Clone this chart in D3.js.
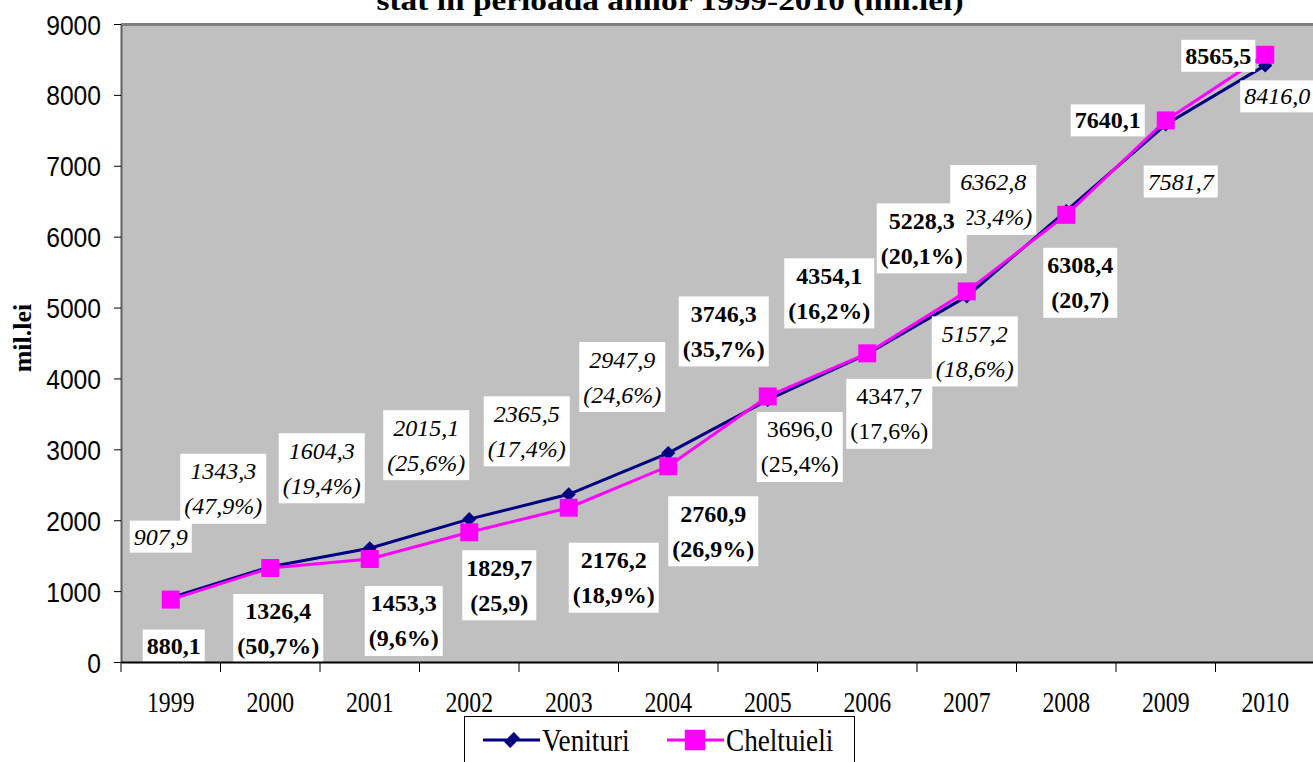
<!DOCTYPE html>
<html>
<head>
<meta charset="utf-8">
<script src="https://cdn.jsdelivr.net/npm/d3@7"></script>
<style>
  body { margin: 0; background: #fff; }
  svg { display: block; }
</style>
</head>
<body>
<div id="chart"></div>
<script>
// data
const years = ['1999', '2000', '2001', '2002', '2003', '2004', '2005', '2006', '2007', '2008', '2009', '2010'];
const venituri = [907.9, 1343.3, 1604.3, 2015.1, 2365.5, 2947.9, 3696.0, 4347.7, 5157.2, 6362.8, 7581.7, 8416.0];
const cheltuieli = [880.1, 1326.4, 1453.3, 1829.7, 2176.2, 2760.9, 3746.3, 4354.1, 5228.3, 6308.4, 7640.1, 8565.5];
const venituriGrowth = [null, '(47,9%)', '(19,4%)', '(25,6%)', '(17,4%)', '(24,6%)', '(25,4%)', '(17,6%)', '(18,6%)', '(23,4%)', null, null];
const cheltuieliGrowth = [null, '(50,7%)', '(9,6%)', '(25,9)', '(18,9%)', '(26,9%)', '(35,7%)', '(16,2%)', '(20,1%)', '(20,7)', null, null];
const yTicks = [0, 1000, 2000, 3000, 4000, 5000, 6000, 7000, 8000, 9000];
const seriesNames = ['Venituri', 'Cheltuieli'];

// label placement (offset of label centre from its point), kept apart from the data
const venOffsets = [[-10, -61], [-47, -78], [-48, -80], [-43, -74], [-42, -63], [-46, -76],
                    [32, 47], [22, 60], [8, 55], [-73, -11], [15, 57], [12, 31]];
const venItalic = [true, true, true, true, true, true, false, false, true, true, true, true];
const chOffsets = [[3, 46], [8, 61], [34, 62], [30, 53], [45, 70], [45, 65],
                   [-44, -65], [-38, -60], [-45, -53], [14, 68], [-58, 0], [-47, 1]];

const W = 1313, H = 762;
const plotLeft = 121, plotRight = 1315, plotTop = 24, plotBottom = 662;
const serif = '"Liberation Serif", "Times New Roman", serif';
const sans = '"Liberation Sans", Arial, sans-serif';

const svg = d3.select('#chart').append('svg')
    .attr('width', W)
    .attr('height', H);

const x = d3.scaleBand().domain(years).range([plotLeft, plotRight]);
const y = d3.scaleLinear().domain([0, 9000]).range([plotBottom, plotTop]);
const cx = i => x(years[i]) + x.bandwidth() / 2;
const fmt = v => d3.format('.1f')(v).replace('.', ',');

// title (only its lower part is in the frame)
svg.append('text')
    .attr('x', 670).attr('y', 10)
    .attr('text-anchor', 'middle')
    .attr('font-family', serif).attr('font-weight', 'bold').attr('font-size', 28)
    .attr('textLength', 587).attr('lengthAdjust', 'spacingAndGlyphs')
    .text('stat în perioada anilor 1999-2010 (mil.lei)');

// plot area
svg.append('rect')
    .attr('x', plotLeft).attr('y', plotTop)
    .attr('width', plotRight - plotLeft).attr('height', plotBottom - plotTop)
    .attr('fill', '#c0c0c0');
svg.append('line')
    .attr('x1', plotLeft).attr('x2', W).attr('y1', plotTop + 0.5).attr('y2', plotTop + 0.5)
    .attr('stroke', '#808080').attr('stroke-width', 3);

// y axis
const yAxis = svg.append('g')
    .attr('transform', `translate(${plotLeft},0)`)
    .call(d3.axisLeft(y).tickValues(yTicks).tickSize(7).tickSizeOuter(0).tickFormat(d3.format('d')));
yAxis.select('.domain').attr('stroke', '#606060').attr('stroke-width', 2);
yAxis.selectAll('.tick line').attr('stroke', '#000');
yAxis.selectAll('.tick text')
    .attr('font-family', sans).attr('font-size', 28).attr('fill', '#000')
    .attr('x', -20 / 0.88).attr('dy', '0.36em')
    .attr('transform', 'scale(0.88,1)');

// y title
svg.append('text')
    .attr('transform', 'translate(31,338) rotate(-90)')
    .attr('text-anchor', 'middle')
    .attr('font-family', serif).attr('font-weight', 'bold').attr('font-size', 26)
    .text('mil.lei');

// lines and markers
const line = d3.line().x((d, i) => cx(i)).y(d => y(d));
const diamond = d3.symbol(d3.symbolSquare, 100);
const square = d3.symbol(d3.symbolSquare, 324);

svg.append('path').datum(venituri)
    .attr('d', line).attr('fill', 'none')
    .attr('stroke', '#000080').attr('stroke-width', 3);
svg.selectAll('.ven-mark').data(venituri).enter().append('path')
    .attr('class', 'ven-mark')
    .attr('d', diamond)
    .attr('transform', (d, i) => `translate(${cx(i)},${y(d)}) rotate(45)`)
    .attr('fill', '#000080');

svg.append('path').datum(cheltuieli)
    .attr('d', line).attr('fill', 'none')
    .attr('stroke', '#ff00ff').attr('stroke-width', 3);
svg.selectAll('.ch-mark').data(cheltuieli).enter().append('path')
    .attr('class', 'ch-mark')
    .attr('d', square)
    .attr('transform', (d, i) => `translate(${cx(i)},${y(d)})`)
    .attr('fill', '#ff00ff');

// data labels in white boxes
function drawLabels(values, growth, offsets, styleFn) {
    values.forEach((v, i) => {
        const lines = growth[i] ? [fmt(v), growth[i]] : [fmt(v)];
        const g = svg.append('g')
            .attr('transform', `translate(${cx(i) + offsets[i][0]},${y(v) + offsets[i][1]})`);
        const box = g.append('rect').attr('fill', '#fff');
        const texts = lines.map((s, k) => {
            const t = g.append('text')
                .attr('text-anchor', 'middle')
                .attr('font-family', serif).attr('font-size', 24)
                .attr('y', (k - (lines.length - 1) / 2) * 35 + 8)
                .text(s);
            styleFn(t, i);
            return t;
        });
        const w = d3.max(texts, t => t.node().getComputedTextLength()) + 8;
        const h = lines.length === 1 ? 32 : 70;
        box.attr('x', -w / 2).attr('y', -h / 2).attr('width', w).attr('height', h);
    });
}

drawLabels(venituri, venituriGrowth, venOffsets,
    (t, i) => t.attr('font-style', venItalic[i] ? 'italic' : 'normal'));
drawLabels(cheltuieli, cheltuieliGrowth, chOffsets,
    t => t.attr('font-weight', 'bold'));

// x axis
const xAxis = svg.append('g')
    .attr('transform', `translate(0,${plotBottom})`)
    .call(d3.axisBottom(x).tickSize(0).tickSizeOuter(0));
xAxis.select('.domain').attr('stroke', '#000').attr('stroke-width', 2);
xAxis.selectAll('.tick text')
    .attr('font-family', serif).attr('font-size', 29).attr('fill', '#000')
    .attr('x', 0).attr('y', 50).attr('dy', null)
    .attr('transform', 'scale(0.82,1)');
svg.append('g').selectAll('line')
    .data(x.domain().map(d => x(d)).concat([plotRight]))
    .enter().append('line')
    .attr('x1', d => d).attr('x2', d => d)
    .attr('y1', plotBottom).attr('y2', plotBottom + 10)
    .attr('stroke', '#000');

// legend
const legend = svg.append('g');
legend.append('rect')
    .attr('x', 464.5).attr('y', 716.5).attr('width', 390).attr('height', 60)
    .attr('fill', '#fff').attr('stroke', '#000');
const legendX = [483, 667];
const legendColors = ['#000080', '#ff00ff'];
seriesNames.forEach((name, k) => {
    const lx = legendX[k];
    legend.append('line')
        .attr('x1', lx).attr('x2', lx + 57).attr('y1', 740).attr('y2', 740)
        .attr('stroke', legendColors[k]).attr('stroke-width', 3);
    legend.append('path')
        .attr('d', k === 0 ? d3.symbol(d3.symbolSquare, 120)() : d3.symbol(d3.symbolSquare, 420)())
        .attr('transform', k === 0 ? `translate(${lx + 29},740) rotate(45) scale(0.8,1.25)` : `translate(${lx + 28},740)`)
        .attr('fill', legendColors[k]);
    legend.append('text')
        .attr('transform', `translate(${lx + 59},751) scale(0.85,1)`)
        .attr('font-family', serif).attr('font-size', 32)
        .text(name);
});
</script>
</body>
</html>
